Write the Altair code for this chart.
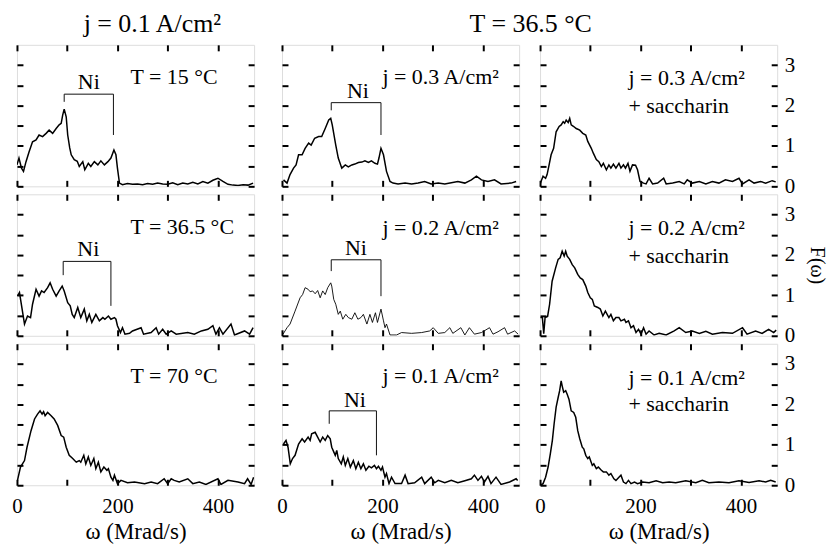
import altair as alt
import pandas as pd

FONT = "'Liberation Serif', 'Times New Roman', Times, 'DejaVu Serif', serif"
XMAX = 472
YMAX = 3.5
PW, PH = 238, 142

# ---- column 1: j = 0.1 A/cm2, varying T ----
t15_w = [0, 4, 9, 13, 18, 24, 31, 38, 44, 51, 58, 64, 71, 78, 84, 88, 91, 94, 98, 101,
         105, 108, 114, 120, 124, 131, 135, 142, 147, 154, 161, 167, 174, 181, 187, 193, 197, 200, 204, 210,
         220, 230, 240, 250, 260, 270, 280, 290, 300, 310, 320, 330, 340, 350, 360, 370, 380, 390, 400, 410,
         420, 430, 440, 450, 460, 470]
t15_f = [0.53, 0.70, 0.45, 0.37, 0.61, 0.85, 1.10, 1.15, 1.27, 1.23, 1.31, 1.39, 1.31, 1.43, 1.52, 1.56, 1.76, 1.91, 1.72, 1.27,
         0.95, 0.78, 0.66, 0.62, 0.49, 0.61, 0.41, 0.57, 0.49, 0.61, 0.53, 0.63, 0.53, 0.61, 0.70, 0.90, 0.78, 0.45, 0.08, 0.04,
         0.07, 0.05, 0.06, 0.04, 0.07, 0.05, 0.08, 0.06, 0.05, 0.09, 0.04, 0.08, 0.06, 0.10, 0.06, 0.12, 0.08, 0.15, 0.20, 0.12,
         0.05, 0.03, 0.02, 0.04, 0.03, 0.08]

t365_w = [1, 5, 15, 21, 27, 31, 38, 44, 49, 54, 61, 66, 71, 78, 84, 90, 94, 101, 106, 110,
          114, 121, 127, 134, 139, 144, 149, 157, 164, 171, 175, 182, 187, 194, 197, 200, 206, 210, 215, 224,
          230, 247, 252, 267, 277, 282, 290, 297, 307, 317, 340, 353, 367, 380, 390, 396, 403, 410, 426, 433,
          453, 463, 470]
t365_f = [0.98, 1.07, 0.29, 0.49, 0.45, 0.78, 1.15, 0.98, 1.11, 1.07, 1.19, 1.31, 1.15, 0.98, 1.11, 1.23, 1.11, 0.82, 0.74, 0.53,
          0.45, 0.70, 0.45, 0.66, 0.37, 0.53, 0.33, 0.53, 0.37, 0.45, 0.41, 0.49, 0.41, 0.45, 0.41, 0.25, 0.08, 0.20, 0.04, 0.06,
          0.12, 0.20, 0.04, 0.08, 0.20, 0.04, 0.16, 0.04, 0.12, 0.04, 0.08, 0.04, 0.12, 0.16, 0.25, 0.04, 0.20, 0.04, 0.29, 0.02,
          0.12, 0.04, 0.20]

t70_w = [1, 7, 15, 20, 28, 35, 41, 46, 50, 53, 56, 61, 68, 74, 81, 88, 93, 98, 104, 111,
         118, 124, 127, 133, 137, 142, 147, 153, 157, 162, 167, 173, 179, 182, 187, 191, 194, 200, 207, 220,
         234, 254, 267, 280, 293, 300, 307, 313, 323, 340, 350, 363, 376, 400, 406, 420, 440, 453, 459, 466,
         471]
t70_f = [0.12, 0.45, 0.61, 0.94, 1.35, 1.64, 1.76, 1.84, 1.76, 1.82, 1.72, 1.80, 1.72, 1.64, 1.48, 1.23, 1.19, 0.94, 0.74, 0.66,
         0.57, 0.61, 0.57, 0.74, 0.53, 0.70, 0.49, 0.66, 0.41, 0.57, 0.33, 0.45, 0.37, 0.41, 0.20, 0.12, 0.25, 0.04, 0.12, 0.06,
         0.08, 0.04, 0.08, 0.04, 0.16, 0.04, 0.16, 0.12, 0.08, 0.16, 0.04, 0.08, 0.02, 0.16, 0.02, 0.12, 0.08, 0.04, 0.16, 0.02,
         0.20]

# ---- column 2: T = 36.5 C, varying j ----
j3_w = [3, 10, 16, 23, 28, 33, 40, 46, 53, 58, 65, 73, 79, 86, 93, 97, 100, 107, 112, 119,
        126, 132, 139, 145, 152, 159, 165, 172, 178, 185, 190, 193, 197, 202, 208, 215, 221, 231, 245, 258,
        271, 284, 297, 311, 324, 350, 364, 377, 387, 397, 410, 423, 436, 456, 466]
j3_f = [0.16, 0.08, 0.29, 0.45, 0.53, 0.78, 0.78, 0.94, 1.07, 1.02, 1.19, 1.23, 1.23, 1.43, 1.64, 1.68, 1.52, 1.02, 0.70, 0.45,
        0.53, 0.48, 0.53, 0.55, 0.59, 0.60, 0.63, 0.59, 0.63, 0.57, 0.55, 0.70, 0.94, 0.78, 0.37, 0.12, 0.08, 0.06, 0.08, 0.06,
        0.08, 0.12, 0.06, 0.08, 0.06, 0.12, 0.08, 0.16, 0.25, 0.16, 0.12, 0.16, 0.06, 0.08, 0.12]

j2_w = [2, 10, 16, 26, 36, 41, 46, 52, 56, 61, 66, 71, 76, 81, 86, 91, 97, 99, 103, 107,
        112, 116, 121, 127, 132, 139, 145, 151, 157, 162, 169, 175, 180, 186, 190, 197, 202, 205, 208, 215,
        228, 238, 258, 278, 294, 301, 311, 324, 334, 340, 356, 364, 373, 383, 397, 413, 420, 430, 443, 449,
        463, 470]
j2_f = [0.04, 0.20, 0.29, 0.61, 0.94, 1.02, 1.19, 1.15, 1.09, 1.11, 1.04, 1.12, 0.94, 1.11, 1.02, 1.19, 1.31, 1.23, 0.90, 0.78,
        0.53, 0.61, 0.41, 0.53, 0.45, 0.41, 0.57, 0.41, 0.45, 0.53, 0.29, 0.53, 0.33, 0.57, 0.33, 0.66, 0.37, 0.20, 0.29, 0.02,
        0.02, 0.08, 0.06, 0.08, 0.12, 0.20, 0.06, 0.08, 0.20, 0.06, 0.20, 0.02, 0.20, 0.04, 0.08, 0.20, 0.04, 0.10, 0.20, 0.04,
        0.12, 0.04]

j1_w = [3, 8, 12, 16.5, 21, 26, 33, 40, 45, 52, 56, 59, 66, 71, 76, 81, 86, 91, 96, 99,
        106, 109, 112, 118, 122, 126, 131, 136, 142, 147, 152, 157, 162, 167, 173, 178, 184, 188, 192, 197,
        200, 205, 208, 213, 218, 225, 238, 245, 251, 264, 278, 284, 297, 304, 311, 324, 337, 350, 364, 377,
        383, 390, 397, 403, 410, 416, 426, 436, 453, 466, 469]
j1_f = [1.02, 1.11, 0.94, 0.53, 0.66, 0.74, 1.02, 1.15, 1.07, 1.19, 1.11, 1.27, 1.31, 1.19, 1.07, 1.19, 1.11, 1.23, 1.15, 0.94,
        0.74, 0.86, 0.66, 0.53, 0.70, 0.49, 0.66, 0.45, 0.61, 0.41, 0.57, 0.41, 0.53, 0.37, 0.47, 0.43, 0.49, 0.41, 0.47, 0.37,
        0.45, 0.20, 0.29, 0.04, 0.20, 0.04, 0.04, 0.25, 0.04, 0.06, 0.20, 0.04, 0.20, 0.06, 0.12, 0.06, 0.12, 0.06, 0.11, 0.16,
        0.25, 0.12, 0.22, 0.08, 0.22, 0.04, 0.20, 0.02, 0.08, 0.16, 0.12]

# ---- column 3: T = 36.5 C + saccharin ----
s3_w = [0.7, 6, 11, 14, 18, 22, 27, 32, 38, 42, 46, 49, 52, 56, 59, 62, 67, 72, 79, 85,
        91, 95, 102, 106, 112, 117, 122, 126, 132, 137, 141, 146, 151, 157, 161, 166, 170, 175, 179, 184,
        190, 194, 199, 206, 211, 217, 224, 234, 246, 251, 264, 277, 287, 293, 303, 317, 330, 343, 356, 369,
        383, 396, 403, 416, 426, 439, 449, 462, 469]
s3_f = [0.08, 0.25, 0.20, 0.29, 0.53, 0.78, 0.94, 1.35, 1.48, 1.52, 1.60, 1.56, 1.64, 1.58, 1.68, 1.52, 1.48, 1.43, 1.39, 1.31,
        1.27, 1.11, 0.94, 0.82, 0.66, 0.61, 0.49, 0.57, 0.41, 0.53, 0.45, 0.55, 0.45, 0.57, 0.45, 0.53, 0.45, 0.57, 0.37, 0.53,
        0.52, 0.41, 0.12, 0.08, 0.06, 0.20, 0.06, 0.08, 0.20, 0.06, 0.08, 0.12, 0.06, 0.16, 0.08, 0.12, 0.06, 0.12, 0.08, 0.16,
        0.12, 0.20, 0.06, 0.16, 0.08, 0.12, 0.08, 0.14, 0.11]

s2_w = [0.7, 4.6, 7.3, 10, 15, 19, 24, 31, 36, 40, 44, 48, 51, 54, 59, 64, 69, 75, 80, 85,
        91, 95, 100, 104, 108, 115, 120, 125, 130, 137, 141, 146, 151, 157, 161, 168, 171, 176, 181, 186,
        191, 196, 201, 206, 211, 217, 227, 237, 251, 267, 277, 290, 303, 317, 330, 343, 363, 383, 403, 412,
        429, 442, 455, 465, 470]
s2_f = [0.45, 0.45, 0.05, 0.45, 0.48, 0.78, 1.35, 1.68, 1.89, 1.93, 2.09, 1.97, 2.09, 1.97, 1.89, 1.76, 1.68, 1.52, 1.43, 1.39,
        1.23, 1.07, 0.94, 0.90, 0.74, 0.70, 0.66, 0.49, 0.61, 0.45, 0.53, 0.37, 0.45, 0.45, 0.37, 0.41, 0.33, 0.37, 0.20, 0.25,
        0.08, 0.16, 0.04, 0.20, 0.04, 0.12, 0.02, 0.06, 0.02, 0.12, 0.20, 0.08, 0.12, 0.06, 0.11, 0.04, 0.08, 0.06, 0.20, 0.04,
        0.12, 0.06, 0.16, 0.08, 0.14]

s1_w = [0.7, 6, 11, 16, 20.5, 24.5, 28, 32, 36, 39, 42, 44, 47, 51, 54, 57.5, 62, 67, 71, 75,
        79, 84, 87, 91, 95, 98, 104, 107, 112, 116, 122, 126, 132, 137, 141, 147, 151, 157, 161, 166,
        171, 176, 181, 188, 194, 204, 217, 231, 244, 257, 270, 290, 310, 323, 336, 356, 376, 396, 416, 436,
        449, 459, 469]
s1_f = [0.0, 0.04, 0.20, 0.45, 0.78, 1.11, 1.52, 1.93, 2.17, 2.34, 2.58, 2.46, 2.30, 2.34, 2.25, 2.13, 1.84, 1.80, 1.68, 1.35,
        1.15, 0.94, 0.90, 0.74, 0.66, 0.70, 0.49, 0.53, 0.41, 0.45, 0.37, 0.33, 0.33, 0.25, 0.29, 0.16, 0.12, 0.20, 0.25, 0.08,
        0.04, 0.12, 0.04, 0.08, 0.04, 0.08, 0.06, 0.11, 0.06, 0.08, 0.06, 0.11, 0.06, 0.12, 0.06, 0.08, 0.06, 0.11, 0.07, 0.11,
        0.08, 0.12, 0.08]

# panel annotations: (text lines, x, y per line)
col_headers = ["j = 0.1 A/cm\u00b2", "T = 36.5 \u00b0C"]
panel_labels = [
    [["T = 15 \u00b0C"], 226, [2.70]],
    [["j = 0.3 A/cm\u00b2"], 200, [2.70]],
    [["j = 0.3 A/cm\u00b2", "+ saccharin"], 176, [2.67, 1.98]],
    [["T = 36.5 \u00b0C"], 226, [2.70]],
    [["j = 0.2 A/cm\u00b2"], 200, [2.66]],
    [["j = 0.2 A/cm\u00b2", "+ saccharin"], 176, [2.66, 1.97]],
    [["T = 70 \u00b0C"], 226, [2.70]],
    [["j = 0.1 A/cm\u00b2"], 200, [2.70]],
    [["j = 0.1 A/cm\u00b2", "+ saccharin"], 176, [2.66, 2.00]],
]
# Ni bracket: x_left, x_right, y_top, y_left_bottom, y_right_bottom, label x, label y
brackets = [
    [94, 192, 2.28, 2.09, 1.27, 143, 2.58],
    [98, 197, 2.07, 1.88, 1.27, 151, 2.36],
    None,
    [92, 187, 1.84, 1.50, 0.74, 142, 2.14],
    [98, 197, 1.88, 1.60, 0.98, 147, 2.16],
    None,
    None,
    [94, 188, 1.84, 1.52, 0.74, 145, 2.11],
    None,
]
curves = [
    (t15_w, t15_f), (j3_w, j3_f), (s3_w, s3_f),
    (t365_w, t365_f), (j2_w, j2_f), (s2_w, s2_f),
    (t70_w, t70_f), (j1_w, j1_f), (s1_w, s1_f),
]

XT = [0, 100, 200, 300, 400]
YT = [0, 0.5, 1, 1.5, 2, 2.5, 3]


def make_panel(idx):
    row, col = divmod(idx, 3)
    w, f = curves[idx]
    xs = alt.Scale(domain=[0, XMAX], nice=False, zero=False)
    ys = alt.Scale(domain=[0, YMAX], nice=False, zero=False)
    tick = dict(offset=-6, tickSize=6, tickWidth=2, tickColor="black", domain=False, grid=False)

    bottom = dict(orient="bottom", values=XT, labelFlush=False, labelOverlap=False, **tick)
    if row == 2:
        bottom.update(labelExpr="datum.value % 200 == 0 ? format(datum.value, 'd') : ''", labelFont=FONT,
                      labelFontSize=21, labelColor="black", labelPadding=10,
                      title="\u03c9 (Mrad/s)", titleFont=FONT, titleFontSize=23,
                      titleFontWeight="normal", titleColor="black", titlePadding=4)
    else:
        bottom.update(labels=False, title=None)
    top = dict(orient="top", values=XT, labels=False, title=None, **tick)
    left = dict(orient="left", values=YT, labels=False, title=None, **tick)
    right = dict(orient="right", values=YT, **tick)
    if col == 2:
        right.update(labelExpr="datum.value % 1 == 0 ? format(datum.value, 'd') : ''", labelFont=FONT,
                     labelFontSize=21, labelColor="black", labelPadding=7, labelOverlap=False)
        if row == 1:
            right.update(title="F(\u03c9)", titleFont=FONT, titleFontSize=20, titleFontWeight="normal",
                         titleColor="black", titlePadding=12, titleAngle=90)
        else:
            right.update(title=None)
    else:
        right.update(labels=False, title=None)

    df = pd.DataFrame({"w": w, "f": f})
    line = alt.Chart(df).mark_line(color="black", strokeWidth=0.9 if idx == 4 else 1.5, clip=True).encode(
        x=alt.X("w:Q", scale=xs, axis=alt.Axis(**bottom)),
        y=alt.Y("f:Q", scale=ys, axis=alt.Axis(**left)),
    )
    texts, lx, lys = panel_labels[idx]
    tdf = pd.DataFrame({"x": [lx] * len(texts), "y": lys, "t": texts})
    lab = alt.Chart(tdf).mark_text(align="left", baseline="middle", font=FONT, fontSize=22, color="black").encode(
        x=alt.X("x:Q", scale=xs, axis=alt.Axis(**top)),
        y=alt.Y("y:Q", scale=ys, axis=alt.Axis(**right)),
        text="t:N",
    )
    layers = [line, lab]
    b = brackets[idx]
    if b is not None:
        x1, x2, yt, yl, yr, nx, ny = b
        bdf = pd.DataFrame({"x": [x1, x1, x2, x2], "y": [yl, yt, yt, yr], "o": [0, 1, 2, 3]})
        br = alt.Chart(bdf).mark_line(color="#111111", strokeWidth=1).encode(
            x=alt.X("x:Q", scale=xs, axis=None),
            y=alt.Y("y:Q", scale=ys, axis=None),
            order="o:Q",
        )
        ndf = pd.DataFrame({"x": [nx], "y": [ny], "t": ["Ni"]})
        ni = alt.Chart(ndf).mark_text(align="center", baseline="middle", font=FONT, fontSize=22, color="black").encode(
            x=alt.X("x:Q", scale=xs, axis=None),
            y=alt.Y("y:Q", scale=ys, axis=None),
            text="t:N",
        )
        layers += [br, ni]
    return alt.layer(*layers).resolve_axis(x="independent", y="independent").properties(width=PW, height=PH)


panels = [make_panel(i) for i in range(9)]

col1 = alt.vconcat(panels[0], panels[3], panels[6], spacing=8, bounds="flush",
                   title=alt.TitleParams(col_headers[0], anchor="middle", dx=19, offset=6,
                                         font=FONT, fontSize=26, fontWeight="normal", color="black"))
col2 = alt.vconcat(panels[1], panels[4], panels[7], spacing=8, bounds="flush")
col3 = alt.vconcat(panels[2], panels[5], panels[8], spacing=8, bounds="flush")
right = alt.hconcat(col2, col3, spacing=13,
                    title=alt.TitleParams(col_headers[1], anchor="middle", dx=-21, offset=6,
                                          font=FONT, fontSize=26, fontWeight="normal", color="black"))
chart = alt.hconcat(col1, right, spacing=20).properties(
    padding={"left": 3, "top": 2, "right": 3, "bottom": 0}
).configure_view(stroke="black", strokeWidth=2).configure(background="white")

chart.save("out.html", embed_options={"renderer": "svg", "actions": False})
